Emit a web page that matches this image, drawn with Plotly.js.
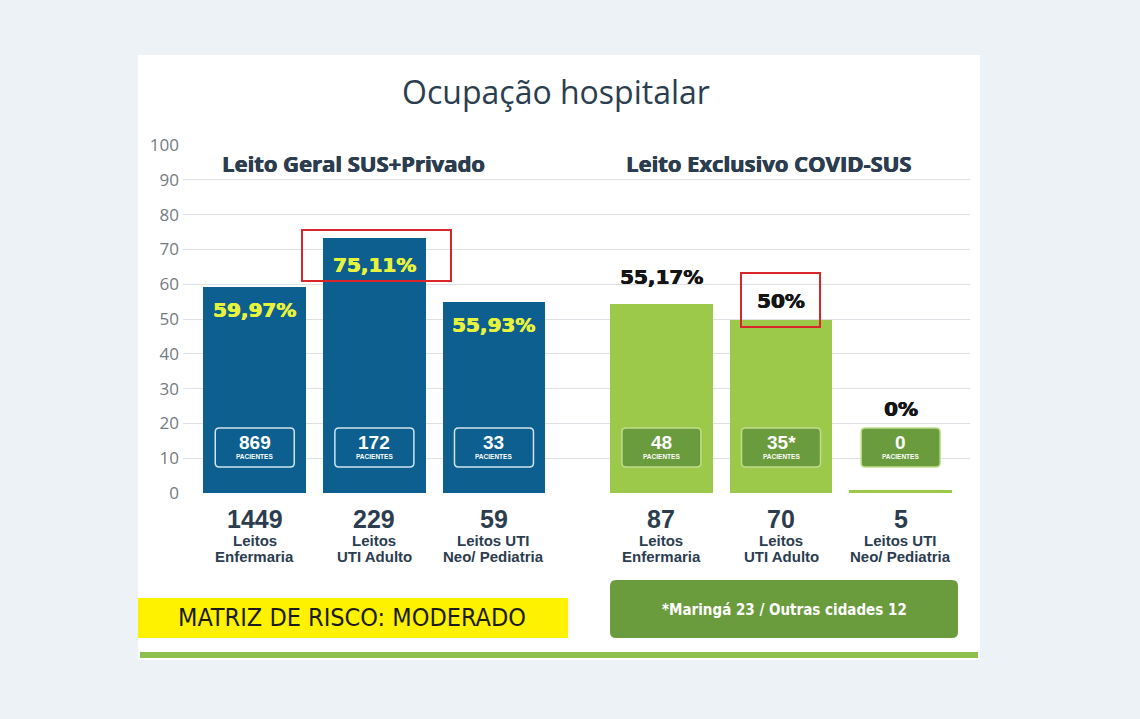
<!DOCTYPE html>
<html>
<head>
<meta charset="utf-8">
<script src="https://cdn.plot.ly/plotly-3.0.1.min.js"></script>
<style>html,body{margin:0;padding:0;background:#edf2f6;}#chart{width:1140px;height:719px;}</style>
</head>
<body>
<div id="chart"></div>
<script>
// ---- data ----
const chartTitle = 'Ocupação hospitalar';
const groupTitles = ['Leito Geral SUS+Privado', 'Leito Exclusivo COVID-SUS'];
const bedLine1 = ['Leitos', 'Leitos', 'Leitos UTI'];
const bedLine2 = ['Enfermaria', 'UTI Adulto', 'Neo/ Pediatria'];

const geralOcupacao = [59.2, 73.3, 54.9];          // bar heights as drawn
const geralRotulos = ['59,97%', '75,11%', '55,93%'];
const geralPacientes = ['869', '172', '33'];
const geralLeitos = ['1449', '229', '59'];

const covidOcupacao = [54.3, 49.7, 0.8];           // bar heights as drawn
const covidRotulos = ['55,17%', '50%', '0%'];
const covidPacientes = ['48', '35*', '0'];
const covidLeitos = ['87', '70', '5'];

const yTickVals = [0, 10, 20, 30, 40, 50, 60, 70, 80, 90, 100];
const matrizTexto = 'MATRIZ DE RISCO: MODERADO';
const notaTexto = '*Maringá 23 / Outras cidades 12';

// ---- style / layout helpers ----
const W = 1140, H = 719;
const PL = 183, PR = 970, PT = 145, PB = 493;
const px = x => (x - PL) / (PR - PL);
const py = y => (PB - y) / (PB - PT);
const groupOffset = 3.4;
const xGeral = geralOcupacao.map((_, i) => i);
const xCovid = covidOcupacao.map((_, i) => i + groupOffset);
const geralShift = [-23, -27, -23];
const covidShift = [27, 19, 81];

const BLUE = '#0c5f8e', GREEN = '#9dc94a', DARKGREEN = '#6a9b3c', TXT = '#2b3d4f';
const CONDENSED = 'DejaVu Sans Condensed, Liberation Sans';

const traces = [
  {type: 'bar', x: xGeral, y: geralOcupacao, width: 0.86, marker: {color: BLUE}, hoverinfo: 'skip', name: groupTitles[0]},
  {type: 'bar', x: xCovid, y: covidOcupacao, width: 0.86, marker: {color: GREEN}, hoverinfo: 'skip', name: groupTitles[1]}
];

const annotations = [];
const shapes = [];
function note(o) {
  annotations.push(Object.assign({xanchor: 'center', yanchor: 'middle', showarrow: false}, o));
}
const heavy = c => `0.5px 0 0 ${c}, -0.3px 0 0 ${c}`;

// panel + bottom line
shapes.push({type: 'rect', xref: 'paper', yref: 'paper', x0: px(138), x1: px(980), y0: py(660), y1: py(55), fillcolor: '#ffffff', line: {width: 0}, layer: 'below'});
shapes.push({type: 'rect', xref: 'paper', yref: 'paper', x0: px(140), x1: px(978), y0: py(658), y1: py(652), fillcolor: '#8fbf4c', line: {width: 0}, layer: 'below'});
// gap in gridlines between groups
shapes.push({type: 'rect', xref: 'paper', yref: 'paper', x0: px(578), x1: px(587), y0: py(PB + 1), y1: py(PT - 1), fillcolor: '#ffffff', line: {width: 0}, layer: 'between'});

// group titles
note({xref: 'paper', yref: 'paper', x: px(353), y: py(163), text: '<b>' + groupTitles[0] + '</b>', font: {family: 'Open Sans', size: 22, color: TXT, shadow: heavy(TXT)}});
note({xref: 'paper', yref: 'paper', x: px(768), y: py(163), text: '<b>' + groupTitles[1] + '</b>', font: {family: 'Open Sans', size: 22, color: TXT, shadow: heavy(TXT)}});

function roundRect(w, h, r) {
  const a = w / 2, b = h / 2;
  return `M ${-a + r},${-b} L ${a - r},${-b} Q ${a},${-b} ${a},${-b + r} L ${a},${b - r} Q ${a},${b} ${a - r},${b} L ${-a + r},${b} Q ${-a},${b} ${-a},${b - r} L ${-a},${-b + r} Q ${-a},${-b} ${-a + r},${-b} Z`;
}

function addGroup(xs, vals, labels, shifts, labelColor, pacientes, leitos, boxFill, boxLine) {
  xs.forEach((x, i) => {
    note({x: x, y: vals[i], xref: 'x', yref: 'y', yshift: shifts[i], text: '<b>' + labels[i] + '</b>', font: {family: 'DejaVu Sans', size: 20, color: labelColor, shadow: heavy(labelColor)}});
    shapes.push({type: 'path', xref: 'x', yref: 'paper', xsizemode: 'pixel', ysizemode: 'pixel', xanchor: x, yanchor: py(447.5), path: roundRect(79, 39, 4), fillcolor: boxFill, line: {color: boxLine, width: 1.5}});
    note({x: x, y: py(442), xref: 'x', yref: 'paper', text: '<b>' + pacientes[i] + '</b>', font: {family: 'Liberation Sans', size: 19, color: '#ffffff'}});
    note({x: x, y: py(456.5), xref: 'x', yref: 'paper', text: '<b>PACIENTES</b>', font: {family: 'Liberation Sans', size: 6.5, color: '#ffffff'}});
    note({x: x, y: py(519), xref: 'x', yref: 'paper', text: '<b>' + leitos[i] + '</b>', font: {family: 'Liberation Sans', size: 25, color: TXT}});
    note({x: x, y: py(540), xref: 'x', yref: 'paper', text: '<b>' + bedLine1[i] + '</b>', font: {family: 'Liberation Sans', size: 15, color: TXT}});
    note({x: x, y: py(556), xref: 'x', yref: 'paper', text: '<b>' + bedLine2[i] + '</b>', font: {family: 'Liberation Sans', size: 15, color: TXT}});
  });
}
addGroup(xGeral, geralOcupacao, geralRotulos, geralShift, '#e6f23c', geralPacientes, geralLeitos, 'rgba(0,0,0,0)', '#cfe4f0');
addGroup(xCovid, covidOcupacao, covidRotulos, covidShift, '#151515', covidPacientes, covidLeitos, DARKGREEN, '#c0dd8e');

// red highlight boxes
shapes.push({type: 'rect', xref: 'paper', yref: 'paper', x0: px(302), x1: px(451), y0: py(281), y1: py(230), line: {color: '#d9262b', width: 2}, fillcolor: 'rgba(0,0,0,0)'});
shapes.push({type: 'rect', xref: 'paper', yref: 'paper', x0: px(741), x1: px(820), y0: py(327), y1: py(273), line: {color: '#d9262b', width: 2}, fillcolor: 'rgba(0,0,0,0)'});

// bottom bands
shapes.push({type: 'rect', xref: 'paper', yref: 'paper', x0: px(138), x1: px(568), y0: py(638), y1: py(598), fillcolor: '#fff200', line: {width: 0}, layer: 'below'});
note({xref: 'paper', yref: 'paper', x: px(352), y: py(617), text: matrizTexto, font: {family: CONDENSED, size: 25, color: '#1b1b1b'}});
shapes.push({type: 'path', xref: 'paper', yref: 'paper', xsizemode: 'pixel', ysizemode: 'pixel', xanchor: px(784), yanchor: py(609), path: roundRect(348, 58, 6), fillcolor: DARKGREEN, line: {width: 0}, layer: 'below'});
note({xref: 'paper', yref: 'paper', x: px(784), y: py(610), text: '<b>' + notaTexto + '</b>', font: {family: CONDENSED, size: 15, color: '#ffffff'}});

const layout = {
  width: W, height: H,
  margin: {l: PL, r: W - PR, t: PT, b: H - PB, pad: 0},
  paper_bgcolor: '#edf2f6', plot_bgcolor: 'rgba(0,0,0,0)',
  showlegend: false,
  title: {text: chartTitle, x: 556 / W, xanchor: 'center', y: 1 - 93 / H, yanchor: 'middle', font: {family: 'Open Sans', size: 32, color: '#2b3e4f'}},
  xaxis: {range: [-0.6, 5.98], showgrid: false, zeroline: false, showticklabels: false, showline: false, fixedrange: true},
  yaxis: {range: [0, 100], tickvals: yTickVals, showgrid: true, gridcolor: '#dde1e5', gridwidth: 1, zeroline: false, showline: false, ticks: '', tickfont: {family: 'Open Sans', size: 17, color: '#737b82'}, ticklabelstandoff: 3, fixedrange: true},
  shapes: shapes,
  annotations: annotations,
  bargap: 0
};

Plotly.newPlot('chart', traces, layout, {displayModeBar: false, staticPlot: true});
</script>
</body>
</html>
